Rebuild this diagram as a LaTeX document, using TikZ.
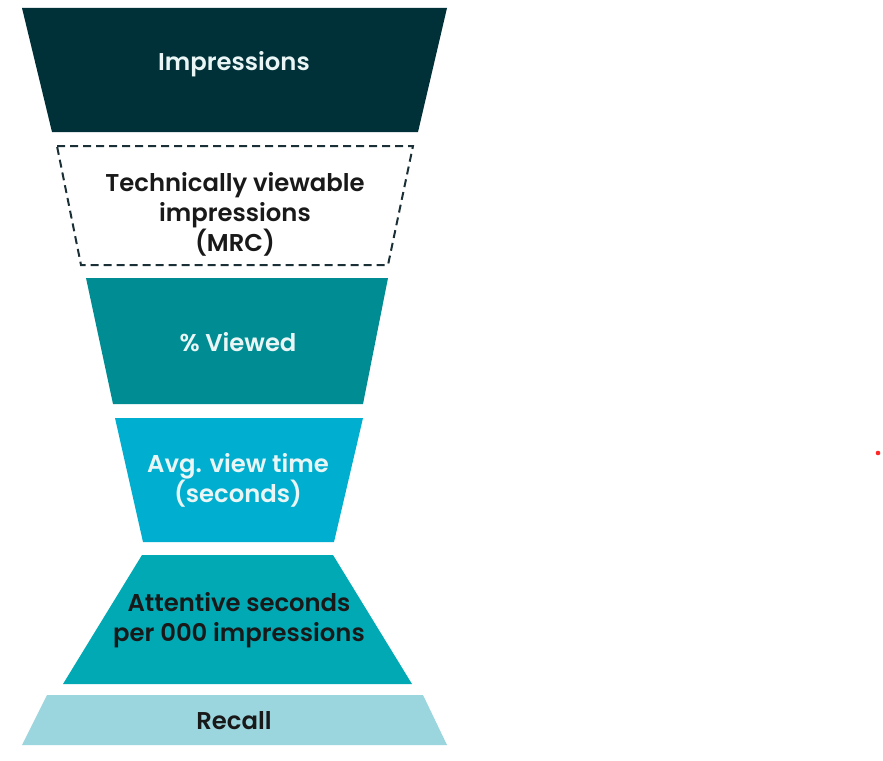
\documentclass[tikz,border=0pt]{standalone}
\usepackage{fontspec}
\setmainfont{Poppins}[BoldFont={Poppins SemiBold}]
\definecolor{cImp}{HTML}{003138}
\definecolor{cView}{HTML}{008C93}
\definecolor{cAvg}{HTML}{00AFCF}
\definecolor{cAtt}{HTML}{00A9B4}
\definecolor{cRec}{HTML}{9BD5DE}
\definecolor{cDash}{HTML}{1A3036}
\definecolor{cLight}{HTML}{EAF6F6}
\begin{document}
\begin{tikzpicture}[x=1pt,y=-1pt,
  lbl/.style={font=\fontsize{24.3}{30}\selectfont\bfseries, align=center},
  wlbl/.style={lbl, text=cLight},
  blbl/.style={lbl, text=black!90}]
\useasboundingbox (0,0) rectangle (883,760);
\fill[white] (0,0) rectangle (883,760);
% funnel pieces
\fill[cImp] (22,8) -- (447,8) -- (418,132) -- (52,132) -- cycle;
\draw[cDash, line width=2pt, dash pattern=on 8pt off 5pt] (57,146) -- (413,146) -- (388,265) -- (81,265) -- cycle;
\fill[cView] (86,278) -- (388,278) -- (363,404) -- (113,404) -- cycle;
\fill[cAvg] (115,418) -- (363,418) -- (334,542) -- (143,542) -- cycle;
\fill[cAtt] (142,555) -- (333,555) -- (412,684) -- (63,684) -- cycle;
\fill[cRec] (47,695) -- (423,695) -- (447,745) -- (22,745) -- cycle;
% labels
\node[wlbl] (imp) at (234,64) {Impressions};
\node[blbl] (tech) at (235,214) {Technically viewable\\impressions\\(MRC)};
\node[wlbl] (view) at (238,342) {\% Viewed};
\node[wlbl] (avg) at (238,480) {Avg. view time\\(seconds)};
\node[blbl] (att) at (239,620) {Attentive seconds\\per 000 impressions};
\node[blbl] (rec) at (234,721) {Recall};
% red dot
\fill[red!85] (878,453) circle (2.3);
\end{tikzpicture}
\end{document}
